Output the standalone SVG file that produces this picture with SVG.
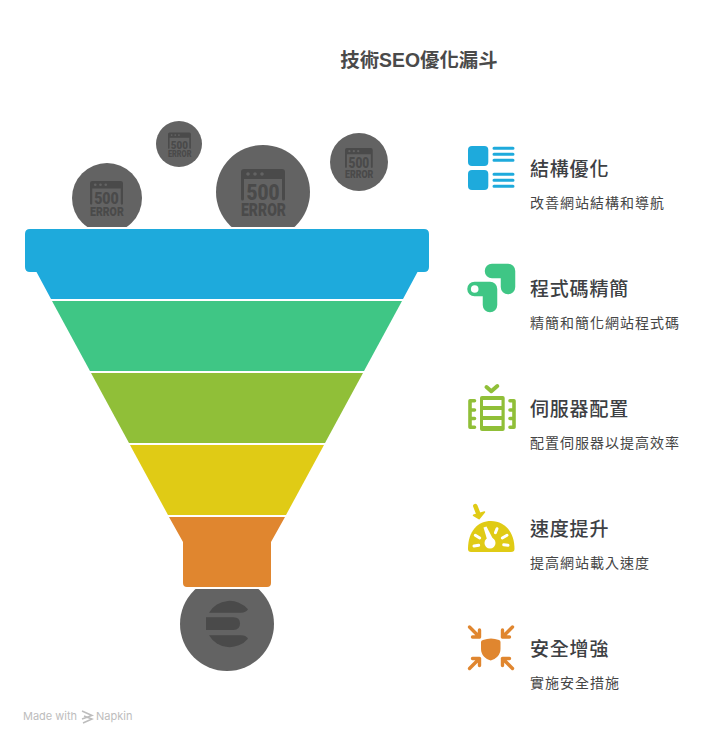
<svg xmlns="http://www.w3.org/2000/svg" width="708" height="744" viewBox="0 0 708 744">
<style>
text{font-family:"Liberation Sans","Noto Sans CJK TC",sans-serif}
.t{font-family:"Noto Sans CJK TC",sans-serif;font-size:19px;font-weight:500;fill:#3d4043;letter-spacing:.8px}
.s{font-size:14px;fill:#454545;letter-spacing:1px}
.g{fill:#636363}
.d{fill:#4a4a4a}
.e{font-family:"Roboto","Liberation Sans",sans-serif;font-weight:900;fill:#4a4a4a}
.ln{stroke:#1eaadc;stroke-width:3;stroke-linecap:round;fill:none}
.ol{stroke:#90bf38;stroke-width:3.600;fill:none;stroke-linecap:round;stroke-linejoin:round}
.ar{stroke:#e0862f;stroke-width:3.400;fill:none;stroke-linecap:round;stroke-linejoin:round}
.w{stroke:#fff;stroke-width:3;stroke-linecap:round;fill:none}
.f{font-family:"Inter","Roboto",sans-serif;font-size:11px;fill:#bdbdbd}
</style>
<defs>
<symbol id="err" viewBox="0 0 45 47" width="45" height="47" overflow="visible">
<path class="d" d="M3 0H41Q44 0 44 3V30Q44 31.500 42.500 31.500T41 30V10H3V30Q3 31.500 1.500 31.500T0 30V3Q0 0 3 0Z"/>
<circle cx="7" cy="5" r="1.800" fill="#636363"/><circle cx="14" cy="5" r="1.800" fill="#636363"/><circle cx="21" cy="5" r="1.800" fill="#636363"/>
<text class="e" x="22" y="31" font-size="22" text-anchor="middle" textLength="33" lengthAdjust="spacingAndGlyphs">500</text>
<text class="e" x="22.500" y="47" font-size="18" text-anchor="middle" textLength="45" lengthAdjust="spacingAndGlyphs">ERROR</text>
</symbol>
<clipPath id="up"><rect x="0" y="100" width="708" height="127"/></clipPath>
<clipPath id="down"><rect x="0" y="589" width="708" height="120"/></clipPath>
</defs>
<rect width="708" height="744" fill="#fff"/>
<text id="title" x="419" y="67" text-anchor="middle" font-size="19.400" font-weight="700" fill="#4a4a4a">技術SEO優化漏斗</text>

<g id="errors">
<g id="error-1" clip-path="url(#up)"><circle class="g" cx="107" cy="198" r="35"/><use href="#err" transform="translate(90 181) scale(.75)"/></g>
<g id="error-2"><circle class="g" cx="179" cy="144" r="23"/><use href="#err" transform="translate(168 132.500) scale(.52)"/></g>
<g id="error-3" clip-path="url(#up)"><circle class="g" cx="263" cy="192" r="47"/><use href="#err" transform="translate(241 169)"/></g>
<g id="error-4"><circle class="g" cx="359" cy="162" r="29"/><use href="#err" transform="translate(345 148) scale(.63)"/></g>
</g>

<g id="funnel">
<path id="band-1" fill="#1eaadc" d="M30 229H424Q429 229 429 234V267Q429 272 424 272H417.500L403 299H51L36.500 272H30Q25 272 25 267V234Q25 229 30 229Z"/>
<path id="band-2" fill="#3fc685" d="M52 301H402L364 371H90Z"/>
<path id="band-3" fill="#90bf38" d="M91 373H363L325 443H129Z"/>
<path id="band-4" fill="#e0cb15" d="M130 445H324L286 515H168Z"/>
<path id="band-5" fill="#e0862f" d="M169 517H285L271 542V583Q271 587 267 587H187Q183 587 183 583V542Z"/>
</g>

<g id="outlet" clip-path="url(#down)">
<circle class="g" cx="227" cy="624" r="47"/>
<path class="d" d="M209 612.700A24 24 0 0 1 248 609.300Q246 612.700 241 612.700Z"/>
<path class="d" d="M209 635.300A24 24 0 0 0 248 638.700Q246 635.300 241 635.300Z"/>
<path class="d" d="M206 617.300H233.500Q240 617.300 240 623.600Q240 630 233.500 630H206Z"/>
</g>

<g id="item-1">
<rect x="468" y="146" width="20.300" height="20" rx="4" fill="#1eaadc"/>
<rect x="468" y="170" width="20.300" height="20" rx="4" fill="#1eaadc"/>
<path class="ln" d="M494 148.300H513M494 154.300H513M494 160.300H513M494 174.300H513M494 180.300H513M494 186.300H513"/>
<text class="t" x="530" y="176">結構優化</text>
<text class="s" x="530" y="208">改善網站結構和導航</text>
</g>

<g id="item-2">
<path d="M492 271H508V287" fill="none" stroke="#3fc685" stroke-width="14.500" stroke-linecap="round" stroke-linejoin="round"/>
<path d="M474.500 289H490V305" fill="none" stroke="#3fc685" stroke-width="14.500" stroke-linecap="round" stroke-linejoin="round"/>
<circle cx="474.700" cy="289" r="3.800" fill="#fff"/>
<text class="t" x="530" y="296">程式碼精簡</text>
<text class="s" x="530" y="328">精簡和簡化網站程式碼</text>
</g>

<g id="item-3">
<path class="ol" style="stroke-width:4" d="M486.500 387L491.300 391.200L497.300 386"/>
<rect x="480" y="396" width="24.700" height="35" rx="2" fill="#90bf38"/>
<rect x="483" y="400" width="18.500" height="6" fill="#fff"/>
<rect x="483" y="410" width="18.500" height="6" fill="#fff"/>
<rect x="483" y="420" width="18.500" height="6" fill="#fff"/>
<path class="ol" d="M474.500 400.800H470V427.200H474.500M470 410H474.500M470 418.500H474.500"/>
<path class="ol" d="M510 400.800H514V427.200H510M514 410H510M514 418.500H510"/>
<text class="t" x="530" y="416">伺服器配置</text>
<text class="s" x="530" y="448">配置伺服器以提高效率</text>
</g>

<g id="item-4">
<path fill="#e0cb15" d="M468 549C468 531 478 521 491 521C504 521 514.500 531 514.500 549Q514.500 552 511 552H471Q468 552 468 549Z"/>
<path fill="#fff" d="M483.500 527.500L486.500 526.500L493 539L487.500 541Z"/>
<circle cx="490" cy="543" r="5.500" fill="#fff"/>
<path class="w" d="M497 528.700L495.400 532.700M507 535.300L502.300 538M508 545.300L503.700 544.700M475.300 535.300L479.700 538M474 546L478.700 545.300"/>
<path d="M475.300 506L478.700 514.700" stroke="#e0cb15" stroke-width="4.500" stroke-linecap="round" fill="none"/>
<path fill="#e0cb15" stroke="#e0cb15" stroke-width="1.500" stroke-linejoin="round" d="M473.500 515.300L484.500 512L479 518.700Z"/>
<text class="t" x="530" y="536">速度提升</text>
<text class="s" x="530" y="568">提高網站載入速度</text>
</g>

<g id="item-5">
<path class="ar" d="M469.500 627L479.500 637M479.500 630V637H472.500"/>
<path class="ar" d="M512.500 627L502.500 637M502.500 630V637H509.500"/>
<path class="ar" d="M469.500 668.500L479.500 658.500M479.500 665.500V658.500H472.500"/>
<path class="ar" d="M512.500 668.500L502.500 658.500M502.500 665.500V658.500H509.500"/>
<path fill="#e0862f" d="M481 642Q481 640.500 483 640Q491 637 499 640Q500.500 640.500 500.500 642V649C500.500 655 496 659 490.700 660.500C485.500 659 481 655 481 649Z"/>
<text class="t" x="530" y="656">安全增強</text>
<text class="s" x="530" y="688">實施安全措施</text>
</g>

<g id="footer">
<text class="f" x="23" y="720">Made with</text>
<path d="M82 711L92 715.500L82 719M84 716L92 719L83 723" fill="none" stroke="#bdbdbd" stroke-width="1.500"/>
<text class="f" x="96" y="720">Napkin</text>
</g>
</svg>
